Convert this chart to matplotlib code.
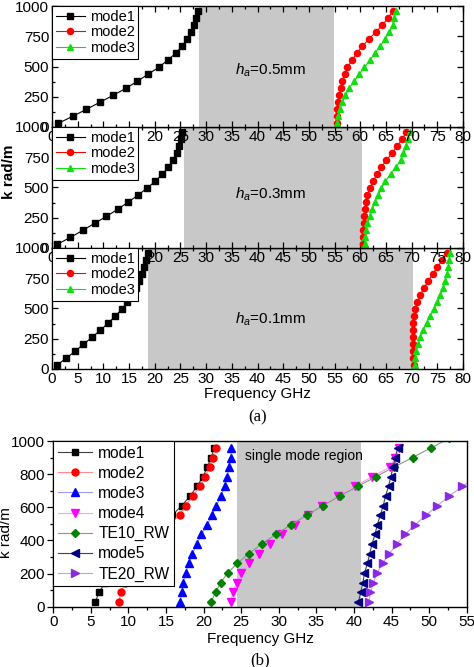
import matplotlib
matplotlib.use('Agg')
import matplotlib.pyplot as plt
from matplotlib.ticker import MultipleLocator

plt.rcParams['font.family'] = ['Liberation Sans', 'DejaVu Sans']
plt.rcParams['mathtext.fontset'] = 'custom'
plt.rcParams['mathtext.it'] = 'Liberation Sans:italic'
plt.rcParams['mathtext.rm'] = 'Liberation Sans'

# ---------------- data (a) ----------------
k_a = [30, 88, 146, 204, 262, 320, 378, 436, 494, 552, 610, 668, 726, 784, 842, 900, 958]

a1_mode1 = [1.2, 4.0, 6.7, 9.3, 11.9, 14.4, 16.6, 18.7, 20.8, 22.5, 24.1, 25.3, 26.3, 27.0, 27.7, 28.1, 28.4]
a1_mode2 = [55.4, 55.4, 55.5, 55.6, 55.9, 56.2, 56.5, 57.0, 57.5, 58.4, 59.3, 60.4, 61.7, 63.0, 64.3, 65.4, 66.4]
a1_mode3 = [55.5, 55.7, 56.0, 56.5, 57.1, 57.8, 58.8, 59.8, 60.8, 61.9, 62.8, 63.9, 64.8, 65.6, 66.3, 66.6, 67.0]

a2_mode1 = [1.0, 3.6, 6.0, 8.3, 10.6, 12.8, 14.8, 16.7, 18.5, 20.1, 21.5, 22.6, 23.5, 24.3, 24.8, 25.2, 25.4]
a2_mode2 = [60.6, 60.6, 60.6, 60.7, 60.8, 60.9, 61.1, 61.4, 61.9, 62.5, 63.3, 64.1, 65.1, 66.2, 67.2, 68.2, 68.9]
a2_mode3 = [60.9, 61.0, 61.2, 61.4, 61.9, 62.3, 62.8, 63.5, 64.1, 64.9, 65.9, 66.9, 67.9, 68.4, 68.9, 69.3, 69.6]

a3_mode1 = [0.9, 2.7, 4.5, 6.1, 7.8, 9.4, 10.9, 12.3, 13.6, 14.6, 15.6, 16.3, 17.0, 17.5, 17.9, 18.3, 18.6]
a3_mode2 = [70.4, 70.3, 70.2, 70.2, 70.2, 70.2, 70.2, 70.4, 70.7, 71.1, 71.6, 72.4, 73.2, 74.1, 75.0, 76.0, 76.9]
a3_mode3 = [70.6, 70.7, 70.9, 71.3, 71.7, 72.2, 72.9, 73.5, 74.3, 75.0, 75.6, 76.1, 76.5, 76.9, 77.1, 77.3, 77.5]

a_gaps = [(28.7, 54.8), (25.7, 60.3), (18.7, 70.2)]
a_labels = [r'$h_a$=0.5mm', r'$h_a$=0.3mm', r'$h_a$=0.1mm']
a_label_k = [470, 440, 410]

# ---------------- data (b) ----------------
k_b = [30, 88, 146, 204, 262, 320, 378, 436, 494, 552, 610, 668, 726, 784, 842, 900, 958]
k_b_te10 = k_b + [1016]
k_b_te20 = k_b[:14]

b_mode1 = [5.6, 6.1, 6.9, 7.8, 8.9, 10.1, 11.4, 12.8, 14.3, 15.8, 17.1, 18.2, 19.1, 19.9, 20.5, 21.0, 21.4]
b_mode2 = [8.7, 9.0, 9.6, 10.3, 11.1, 12.0, 13.0, 14.1, 15.4, 16.8, 17.6, 18.6, 19.5, 20.2, 20.8, 21.2, 21.6]
b_mode3 = [16.9, 17.1, 17.3, 17.6, 18.0, 18.5, 19.1, 19.7, 20.5, 21.1, 21.7, 22.3, 22.8, 23.1, 23.4, 23.6, 23.7]
b_mode4 = [23.6, 23.9, 24.4, 25.0, 26.1, 27.4, 28.8, 30.4, 32.1, 33.9, 35.8, 37.9, 40.1, 42.4, 44.8, 45.5, 46.0]
b_te10 = [21.0, 21.6, 22.3, 23.2, 24.5, 26.0, 27.7, 29.6, 31.6, 33.7, 35.9, 38.1, 40.5, 42.9, 45.3, 47.8, 50.2, 52.7]
b_mode5 = [40.6, 40.9, 41.2, 41.4, 41.8, 42.1, 42.4, 42.8, 43.1, 43.5, 43.9, 44.2, 44.6, 44.9, 45.2, 45.5, 45.8]
b_te20 = [42.0, 42.2, 42.6, 43.1, 43.8, 44.7, 45.7, 46.8, 48.1, 49.6, 51.1, 52.7, 54.4, 56.3]
b_gap = (24.5, 41.0)

GRAY = '#c8c8c8'
W, H = 474, 667
fig = plt.figure(figsize=(W / 100, H / 100), dpi=100)

# ---------------- panel (a) ----------------
a_left, a_right = 52, 463
tops = [6, 127, 248]
ph = 121
a_series = [(a1_mode1, a1_mode2, a1_mode3), (a2_mode1, a2_mode2, a2_mode3), (a3_mode1, a3_mode2, a3_mode3)]
a_styles = [
    dict(color='black', marker='s', ms=4.0, mfc='black', mec='black', lw=0.8, label='mode1'),
    dict(color='red', marker='o', ms=4.4, mfc='red', mec='red', lw=0.8, label='mode2'),
    dict(color='#11dd11', marker='^', ms=4.8, mfc='#11dd11', mec='#11dd11', lw=0.8, label='mode3'),
]
axes_a = []
for i in range(3):
    ax = fig.add_axes([a_left / W, 1 - (tops[i] + ph) / H, (a_right - a_left) / W, ph / H])
    ax.set_zorder(2 - i)
    ax.axvspan(a_gaps[i][0], a_gaps[i][1], color=GRAY, lw=0, zorder=0)
    handles = []
    for ser, st in zip(a_series[i], a_styles):
        h, = ax.plot(ser, k_a, **st)
        handles.append(h)
    ax.text(35.7, a_label_k[i], a_labels[i], fontsize=11, va='center', ha='left')
    ax.set_xlim(0, 80)
    ax.set_ylim(0, 1000)
    ax.xaxis.set_major_locator(MultipleLocator(5))
    ax.xaxis.set_minor_locator(MultipleLocator(2.5))
    ax.yaxis.set_major_locator(MultipleLocator(250))
    ax.yaxis.set_minor_locator(MultipleLocator(125))
    ax.tick_params(which='both', direction='in', top=True, right=True, labelsize=11, width=0.9)
    ax.tick_params(which='major', length=4, pad=2)
    ax.tick_params(which='minor', length=2.5)
    for s in ax.spines.values():
        s.set_linewidth(1.0)
    leg = fig.legend(handles, [st['label'] for st in a_styles], loc='upper left',
                     bbox_to_anchor=(0, 1), bbox_transform=ax.transAxes, borderaxespad=0,
                     fontsize=10.5, frameon=True, fancybox=False, edgecolor='black',
                     framealpha=1, labelspacing=0.12, handlelength=2.0, handletextpad=0.35,
                     borderpad=0.25)
    leg.get_frame().set_linewidth(0.8)
    axes_a.append(ax)

axes_a[2].set_xlabel('Frequency GHz', fontsize=11, labelpad=1)
fig.text(9 / W, 1 - 172 / H, 'k rad/m', rotation=90, fontsize=11, fontweight='bold',
         ha='center', va='center')
fig.text(258 / W, 1 - 417 / H, '(a)', family=['Liberation Serif', 'DejaVu Serif'], fontsize=12,
         ha='center', va='center')

# ---------------- panel (b) ----------------
b_left, b_right, b_top, b_bot = 53.3, 466.7, 441, 606.7
axb = fig.add_axes([b_left / W, 1 - b_bot / H, (b_right - b_left) / W, (b_bot - b_top) / H])
axb.axvspan(b_gap[0], b_gap[1], color=GRAY, lw=0, zorder=0)
b_specs = [
    (b_mode1, k_b, 'mode1', 's', 'black', '#404040', 4.2),
    (b_mode2, k_b, 'mode2', 'o', 'red', '#ff8c8c', 5.0),
    (b_mode3, k_b, 'mode3', '^', '#0000ff', '#9a9aff', 5.2),
    (b_mode4, k_b, 'mode4', 'v', '#ff00ff', '#ff9aff', 5.2),
    (b_te10, k_b_te10, 'TE10_RW', 'D', '#008000', '#7f9f7f', 4.4),
    (b_mode5, k_b, 'mode5', '<', '#000080', '#40405f', 5.2),
    (b_te20, k_b_te20, 'TE20_RW', '>', '#8a2be2', '#c89af0', 5.2),
]
hb = []
for xs, ks, lab, mk, c, lc, ms in b_specs:
    h, = axb.plot(xs, ks, color=lc, lw=0.8, marker=mk, ms=ms, mfc=c, mec=c, label=lab)
    hb.append(h)
axb.text(25.5, 908, 'single mode region', fontsize=10, va='center', ha='left')
axb.set_xlim(0, 55)
axb.set_ylim(0, 1000)
axb.xaxis.set_major_locator(MultipleLocator(5))
axb.xaxis.set_minor_locator(MultipleLocator(2.5))
axb.yaxis.set_major_locator(MultipleLocator(200))
axb.yaxis.set_minor_locator(MultipleLocator(100))
axb.tick_params(which='both', direction='out', labelsize=11, width=0.9)
axb.tick_params(which='major', length=4, pad=2)
axb.tick_params(which='minor', length=2.5)
for s in axb.spines.values():
    s.set_linewidth(1.0)
axb.set_xlabel('Frequency GHz', fontsize=11, labelpad=2)
axb.set_ylabel('k rad/m', fontsize=11)
axb.yaxis.set_label_coords(-0.097, 0.45)
legb = axb.legend(handles=hb, loc='upper left', borderaxespad=0, fontsize=11.2, frameon=True,
                  fancybox=False, edgecolor='black', framealpha=1, labelspacing=0.33,
                  handlelength=2.2, handletextpad=0.4, borderpad=0.3)
legb.get_frame().set_linewidth(0.8)
fig.text(260 / W, 1 - 660 / H, '(b)', family=['Liberation Serif', 'DejaVu Serif'], fontsize=12,
         ha='center', va='center')

fig.savefig('out.png', dpi=100, facecolor='white')
